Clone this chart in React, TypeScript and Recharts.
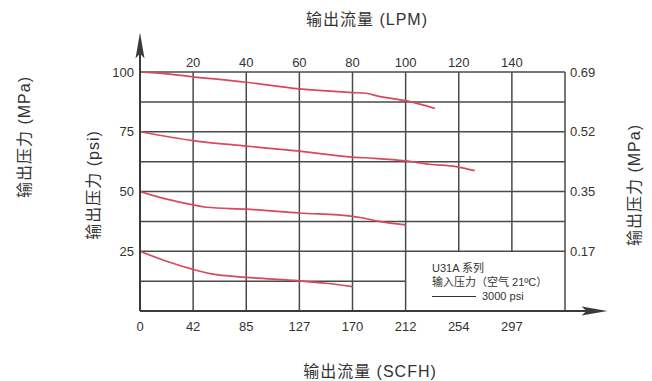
import React from 'react';
import { LineChart, Line, XAxis, YAxis, ReferenceLine } from 'recharts';

// axis ticks
const lpmTicks = [0, 20, 40, 60, 80, 100, 120, 140];
const topTicks = [20, 40, 60, 80, 100, 120, 140];
const scfhLabels = ['0', '42', '85', '127', '170', '212', '254', '297'];
const psiTicks = [25, 50, 75, 100];
const mpaLabels = ['0.17', '0.35', '0.52', '0.69'];

// grid
const gridPsi = [12.5, 25, 37.5, 50, 62.5, 75, 87.5, 100];
const gridLpm = [20, 40, 60, 80, 100, 120, 140, 160];
const legendCornerLpm = 100;
const legendCornerPsi = 25;

// curves (LPM, psi)
const curve100 = [
  { lpm: 0, psi: 100 }, { lpm: 10, psi: 99.2 }, { lpm: 20, psi: 98.0 }, { lpm: 40, psi: 95.7 },
  { lpm: 60, psi: 92.9 }, { lpm: 80, psi: 91.4 }, { lpm: 85, psi: 91.1 }, { lpm: 90, psi: 89.8 },
  { lpm: 100, psi: 88.0 }, { lpm: 111, psi: 84.8 },
];
const curve75 = [
  { lpm: 0, psi: 75 }, { lpm: 20, psi: 71.3 }, { lpm: 40, psi: 69.0 }, { lpm: 60, psi: 66.9 },
  { lpm: 80, psi: 64.4 }, { lpm: 88, psi: 63.9 }, { lpm: 100, psi: 62.8 }, { lpm: 109, psi: 61.4 },
  { lpm: 119, psi: 60.4 }, { lpm: 126, psi: 58.7 },
];
const curve50 = [
  { lpm: 0, psi: 50 }, { lpm: 10, psi: 46.8 }, { lpm: 20, psi: 44.4 }, { lpm: 25, psi: 43.4 },
  { lpm: 40, psi: 42.6 }, { lpm: 60, psi: 41.0 }, { lpm: 80, psi: 39.6 }, { lpm: 84, psi: 38.9 },
  { lpm: 90, psi: 37.5 }, { lpm: 100, psi: 36.0 },
];
const curve25 = [
  { lpm: 0, psi: 25 }, { lpm: 10, psi: 20.8 }, { lpm: 20, psi: 17.4 }, { lpm: 27, psi: 15.5 },
  { lpm: 40, psi: 14.1 }, { lpm: 60, psi: 12.6 }, { lpm: 70, psi: 11.6 }, { lpm: 80, psi: 10.2 },
];
const curves = [curve100, curve75, curve50, curve25];

// chart-level rows so the top LPM axis has something to scale
const axisRows = lpmTicks.map((lpm) => ({ lpm }));

const FONT = '"Liberation Sans", Arial, "Noto Sans CJK SC", sans-serif';
const GRID = '#4a4a4a';
const RED = '#d64a5c';
const TEXT = '#333';

const Arrow = (p: any) => {
  const { x1, y1, x2, y2 } = p;
  const len = Math.hypot(x2 - x1, y2 - y1) || 1;
  const dx = (x2 - x1) / len;
  const dy = (y2 - y1) / len;
  const nx = -dy;
  const ny = dx;
  const bx = x2 - dx * 26;
  const by = y2 - dy * 26;
  const mx = x2 - dx * 21;
  const my = y2 - dy * 21;
  return (
    <g>
      <line x1={x1} y1={y1} x2={mx} y2={my} stroke="#3a3a3a" strokeWidth={2} />
      <polygon
        points={`${x2},${y2} ${bx + nx * 4.5},${by + ny * 4.5} ${mx},${my} ${bx - nx * 4.5},${by - ny * 4.5}`}
        fill="#3a3a3a"
      />
    </g>
  );
};

const tickStyle = { fill: TEXT, fontSize: 13, fontFamily: FONT };

const TopTick = ({ x, y, payload }: any) => (
  <text x={x} y={y} dy={3} textAnchor="middle" fill={TEXT} fontSize={13} fontFamily={FONT}>
    {payload.value}
  </text>
);

export default function App() {
  return (
    <div style={{ position: 'absolute', left: 0, top: 0, width: 652, height: 381, background: '#fff', fontFamily: FONT }}>
      <LineChart width={652} height={381} data={axisRows} margin={{ top: 47, right: 42, bottom: 45, left: 100 }}>
        <XAxis
          xAxisId="bottom"
          type="number"
          dataKey="lpm"
          domain={[0, 160]}
          allowDataOverflow
          ticks={lpmTicks}
          interval={0}
          height={25}
          axisLine={false}
          tickLine={false}
          tickMargin={5}
          tick={tickStyle}
          tickFormatter={(v: number) => scfhLabels[lpmTicks.indexOf(v)] ?? ''}
        />
        <XAxis
          xAxisId="top"
          orientation="top"
          type="number"
          dataKey="lpm"
          domain={[0, 160]}
          allowDataOverflow
          ticks={topTicks}
          interval={0}
          height={25}
          axisLine={false}
          tickLine={false}
          tickSize={6}
          tickMargin={2}
          tick={TopTick}
        />
        <YAxis
          yAxisId="psi"
          type="number"
          domain={[0, 100]}
          allowDataOverflow
          ticks={psiTicks}
          interval={0}
          width={40}
          axisLine={false}
          tickLine={false}
          tickSize={4}
          tickMargin={2}
          tick={tickStyle}
        />
        <YAxis
          yAxisId="mpa"
          orientation="right"
          type="number"
          domain={[0, 100]}
          allowDataOverflow
          ticks={psiTicks}
          interval={0}
          width={45}
          axisLine={false}
          tickLine={false}
          tickSize={3}
          tickMargin={2}
          tick={tickStyle}
          tickFormatter={(v: number) => mpaLabels[psiTicks.indexOf(v)] ?? ''}
        />

        {gridPsi.map((p) => (
          <ReferenceLine
            key={`h${p}`}
            xAxisId="bottom"
            yAxisId="psi"
            segment={[{ x: 0, y: p }, { x: p < legendCornerPsi ? legendCornerLpm : 160, y: p }]}
            stroke={GRID}
            strokeWidth={1.5}
          />
        ))}
        {gridLpm.map((l) => (
          <ReferenceLine
            key={`v${l}`}
            xAxisId="bottom"
            yAxisId="psi"
            segment={[{ x: l, y: l > legendCornerLpm && l < 160 ? legendCornerPsi : 0 }, { x: l, y: 100 }]}
            stroke={GRID}
            strokeWidth={1.5}
          />
        ))}

        {curves.map((c, i) => (
          <Line
            key={i}
            xAxisId="bottom"
            yAxisId="psi"
            data={c}
            dataKey="psi"
            type="monotone"
            stroke={RED}
            strokeWidth={1.7}
            dot={false}
            activeDot={false}
            isAnimationActive={false}
          />
        ))}

        <ReferenceLine
          xAxisId="bottom"
          yAxisId="psi"
          segment={[{ x: 0, y: 0 }, { x: 0, y: 116.5 }]}
          ifOverflow="visible"
          shape={Arrow}
        />
        <ReferenceLine
          xAxisId="bottom"
          yAxisId="psi"
          segment={[{ x: 0, y: 0 }, { x: 176, y: 0 }]}
          ifOverflow="visible"
          shape={Arrow}
        />
      </LineChart>

      {/* titles */}
      <div style={{ position: 'absolute', left: 367, top: 18, transform: 'translate(-50%,-50%)', fontSize: 16, color: TEXT, whiteSpace: 'nowrap', letterSpacing: 1 }}>
        输出流量 (LPM)
      </div>
      <div style={{ position: 'absolute', left: 370, top: 370, transform: 'translate(-50%,-50%)', fontSize: 16, color: TEXT, whiteSpace: 'nowrap', letterSpacing: 1 }}>
        输出流量 (SCFH)
      </div>
      <div style={{ position: 'absolute', left: 23, top: 137, transform: 'translate(-50%,-50%) rotate(-90deg)', fontSize: 16, color: TEXT, whiteSpace: 'nowrap', letterSpacing: 1 }}>
        输出压力 (MPa)
      </div>
      <div style={{ position: 'absolute', left: 92, top: 185, transform: 'translate(-50%,-50%) rotate(-90deg)', fontSize: 16, color: TEXT, whiteSpace: 'nowrap', letterSpacing: 1 }}>
        输出压力 (psi)
      </div>
      <div style={{ position: 'absolute', left: 633, top: 185, transform: 'translate(-50%,-50%) rotate(-90deg)', fontSize: 16, color: TEXT, whiteSpace: 'nowrap', letterSpacing: 1 }}>
        输出压力 (MPa)
      </div>

      {/* legend */}
      <div style={{ position: 'absolute', left: 432, top: 261, fontSize: 11, color: TEXT, lineHeight: '14px', whiteSpace: 'nowrap' }}>
        <div>U31A 系列</div>
        <div>输入压力（空气 21ºC）</div>
        <div style={{ display: 'flex', alignItems: 'center' }}>
          <span style={{ display: 'inline-block', width: 44, borderTop: '1.5px solid #333', marginRight: 6 }} />
          <span>3000 psi</span>
        </div>
      </div>
    </div>
  );
}
